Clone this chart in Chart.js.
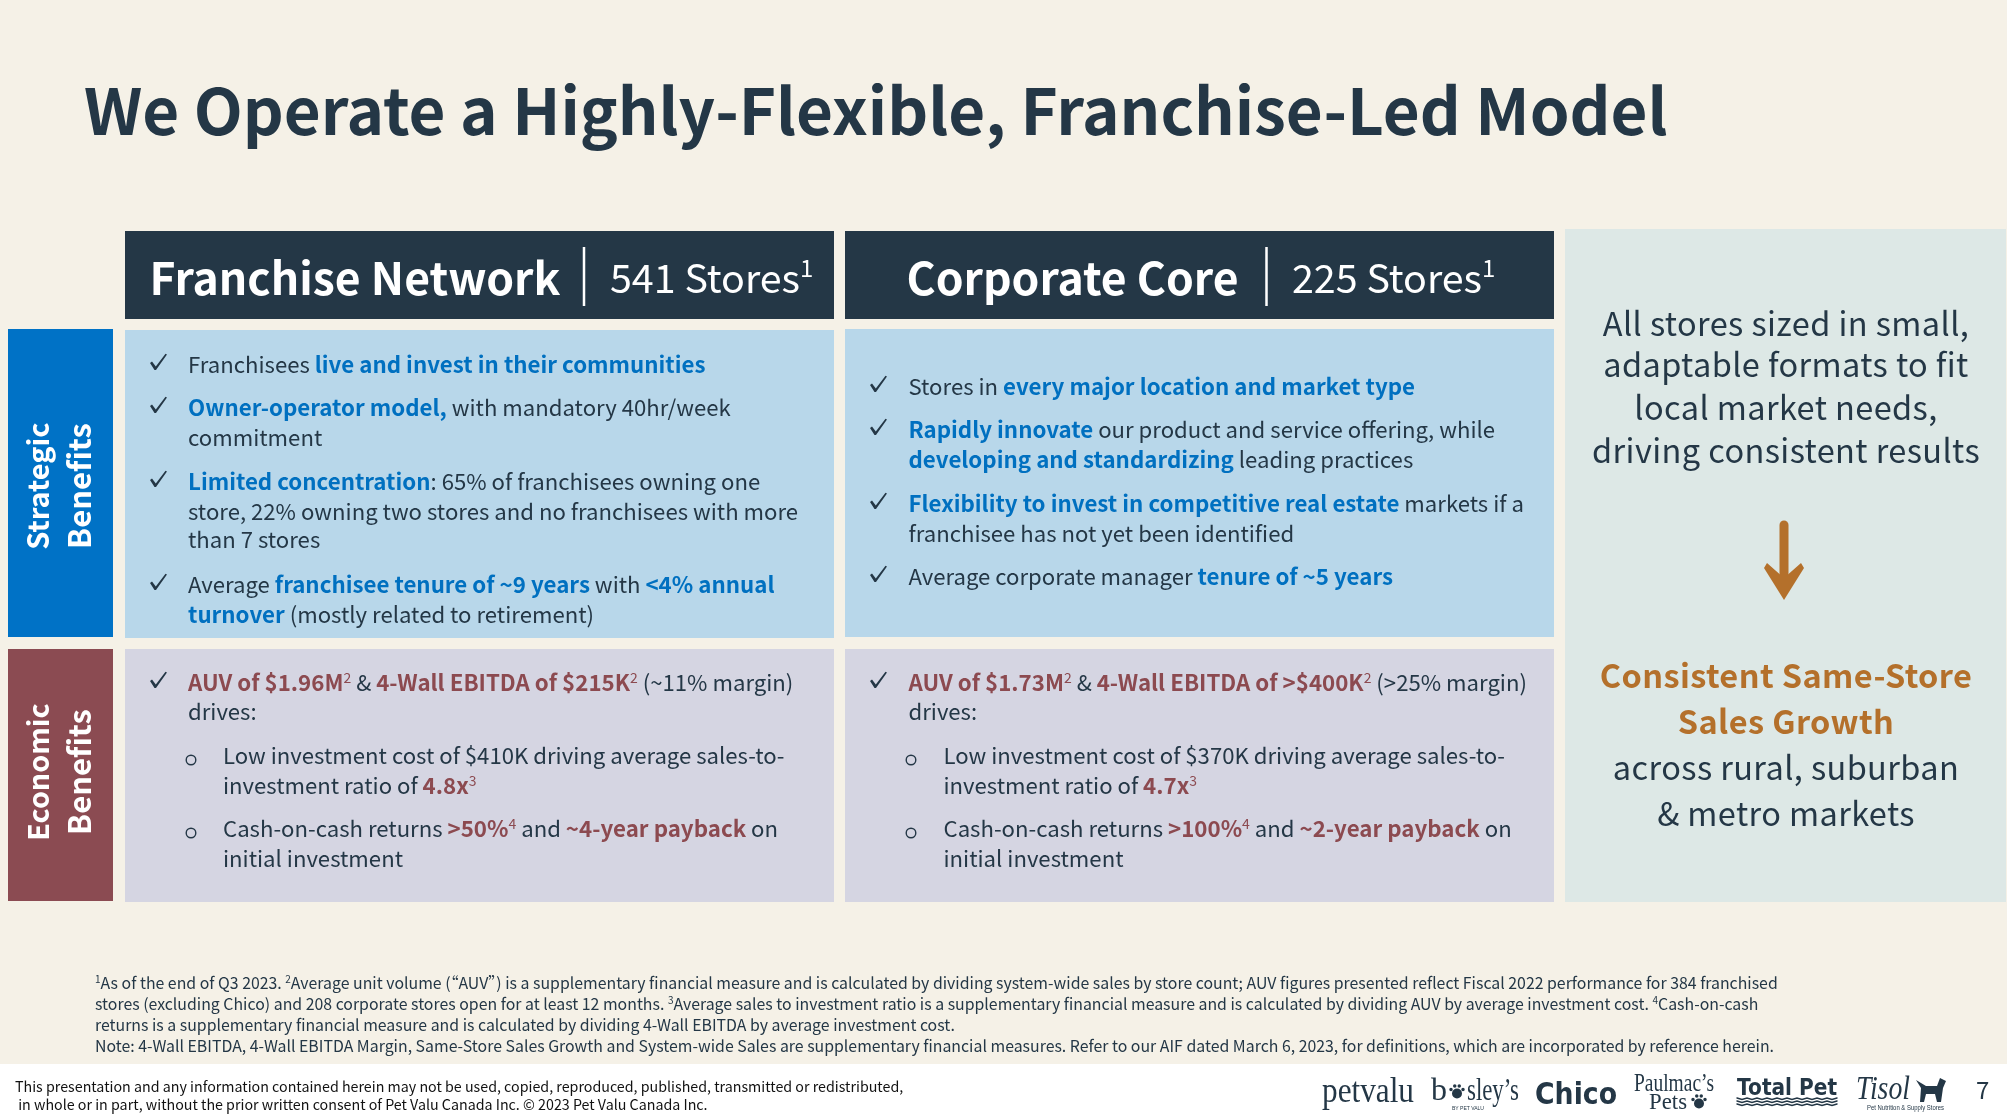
<!DOCTYPE html>
<html>
<head>
<meta charset="utf-8">
<title>Franchise-Led Model</title>
<script src="https://cdn.jsdelivr.net/npm/chart.js@4"></script>
<style>
    html, body { margin: 0; padding: 0; background: #f5f1e7; }
    canvas { display: block; }
</style>
</head>
<body>
<canvas id="slide" width="2007" height="1114"></canvas>
<script>
// Slide text and the two store counts. Runs are [text, style]:
// n = plain, b = blue bold, r = red bold, s = superscript
const titleText = 'We Operate a Highly-Flexible, Franchise-Led Model';
const networkNames = ['Franchise Network', 'Corporate Core'];
const storeCounts = [541, 225];
const sideLabels = [['Strategic', 'Benefits'], ['Economic', 'Benefits']];

const franchiseStrategic = [
    [['Franchisees ', 'n'], ['live and invest in their communities', 'b']],
    [['Owner-operator model', 'b'], [',', 'b'], [' with mandatory 40hr/week', 'n']],
    [['commitment', 'n']],
    [['Limited concentration', 'b'], [': 65% of franchisees owning one', 'n']],
    [['store, 22% owning two stores and no franchisees with more', 'n']],
    [['than 7 stores', 'n']],
    [['Average ', 'n'], ['franchisee tenure of ~9 years', 'b'], [' with ', 'n'], ['<4% annual', 'b']],
    [['turnover', 'b'], [' (mostly related to retirement)', 'n']],
];
const corporateStrategic = [
    [['Stores in ', 'n'], ['every major location and market type', 'b']],
    [['Rapidly innovate', 'b'], [' our product and service offering, while', 'n']],
    [['developing and standardizing', 'b'], [' leading practices', 'n']],
    [['Flexibility to invest in competitive real estate', 'b'], [' markets if a', 'n']],
    [['franchisee has not yet been identified', 'n']],
    [['Average corporate manager ', 'n'], ['tenure of ~5 years', 'b']],
];
const franchiseEconomic = [
    [['AUV of $1.96M', 'r'], ['2', 's'], [' & ', 'n'], ['4-Wall EBITDA of $215K', 'r'], ['2', 's'], [' (~11% margin)', 'n']],
    [['drives:', 'n']],
];
const franchiseEconomicSub = [
    [['Low investment cost of $410K driving average sales-to-', 'n']],
    [['investment ratio of ', 'n'], ['4.8x', 'r'], ['3', 's']],
    [['Cash-on-cash returns ', 'n'], ['>50%', 'r'], ['4', 's'], [' and ', 'n'], ['~4-year payback', 'r'], [' on', 'n']],
    [['initial investment', 'n']],
];
const corporateEconomic = [
    [['AUV of $1.73M', 'r'], ['2', 's'], [' & ', 'n'], ['4-Wall EBITDA of >$400K', 'r'], ['2', 's'], [' (>25% margin)', 'n']],
    [['drives:', 'n']],
];
const corporateEconomicSub = [
    [['Low investment cost of $370K driving average sales-to-', 'n']],
    [['investment ratio of ', 'n'], ['4.7x', 'r'], ['3', 's']],
    [['Cash-on-cash returns ', 'n'], ['>100%', 'r'], ['4', 's'], [' and ', 'n'], ['~2-year payback', 'r'], [' on', 'n']],
    [['initial investment', 'n']],
];
const sideTop = ['All stores sized in small,', 'adaptable formats to fit', 'local market needs,', 'driving consistent results'];
const sideHighlight = ['Consistent Same-Store', 'Sales Growth'];
const sideBottom = ['across rural, suburban', '& metro markets'];
const footnotes = [
    [['1', 's'], ['As of the end of Q3 2023. ', 'n'], ['2', 's'], ['Average unit volume (“AUV”) is a supplementary financial measure and is calculated by dividing system-wide sales by store count; AUV figures presented reflect Fiscal 2022 performance for 384 franchised', 'n']],
    [['stores (excluding Chico) and 208 corporate stores open for at least 12 months. ', 'n'], ['3', 's'], ['Average sales to investment ratio is a supplementary financial measure and is calculated by dividing AUV by average investment cost. ', 'n'], ['4', 's'], ['Cash-on-cash', 'n']],
    [['returns is a supplementary financial measure and is calculated by dividing 4-Wall EBITDA by average investment cost.', 'n']],
    [['Note: 4-Wall EBITDA, 4-Wall EBITDA Margin, Same-Store Sales Growth and System-wide Sales are supplementary financial measures. Refer to our AIF dated March 6, 2023, for definitions, which are incorporated by reference herein.', 'n']],
];
const legalLines = [
    'This presentation and any information contained herein may not be used, copied, reproduced, published, transmitted or redistributed,',
    ' in whole or in part, without the prior written consent of Pet Valu Canada Inc. © 2023 Pet Valu Canada Inc.',
];
const pageNumber = '7';

// Layout and colours
const SANS = '"Noto Sans CJK SC"';
const DARK = '#243746', BLUE = '#0070c0', RED = '#8c4a50', ORANGE = '#b4702b';
const RUN_COLOR = { n: DARK, b: BLUE, r: RED };
const RUN_WEIGHT = { n: 'normal', b: 'bold', r: 'bold' };
const BODY_SIZE = 22.3;

const PANELS = [
    { x0: 0,    x1: 2007, y0: 1064, y1: 1114, color: '#ffffff' },
    { x0: 125,  x1: 834,  y0: 231,  y1: 319,  color: '#243746' },
    { x0: 845,  x1: 1554, y0: 231,  y1: 319,  color: '#243746' },
    { x0: 8,    x1: 113,  y0: 329,  y1: 637,  color: '#0072c6' },
    { x0: 125,  x1: 834,  y0: 330,  y1: 638,  color: '#b8d7ea' },
    { x0: 845,  x1: 1554, y0: 329,  y1: 637,  color: '#b8d7ea' },
    { x0: 8,    x1: 113,  y0: 649,  y1: 901,  color: '#8b4b52' },
    { x0: 125,  x1: 834,  y0: 649,  y1: 902,  color: '#d5d5e2' },
    { x0: 845,  x1: 1554, y0: 649,  y1: 902,  color: '#d5d5e2' },
    { x0: 1565, x1: 2006, y0: 229,  y1: 902,  color: '#dde8e6' },
];

function drawRuns(ctx, runs, x, y, size) {
    ctx.textAlign = 'left';
    ctx.letterSpacing = '0px';
    ctx.fillStyle = DARK;
    let cx = x;
    runs.forEach(([text, style]) => {
        if (style === 's') {
            ctx.font = `normal ${Math.round(size * 0.62)}px ${SANS}`;
            ctx.fillText(text, cx, y - size * 0.36);
        } else {
            // plain runs sit a touch tighter than the bold ones in the reference
            const runSize = style === 'n' && size === BODY_SIZE ? size - 0.15 : size;
            ctx.font = `${RUN_WEIGHT[style]} ${runSize}px ${SANS}`;
            ctx.fillStyle = RUN_COLOR[style];
            ctx.fillText(text, cx, y);
        }
        cx += ctx.measureText(text).width;
    });
}

function drawChecks(ctx, lines, x, baselines, marks, markX) {
    lines.forEach((runs, i) => {
        drawRuns(ctx, runs, x, baselines[i], BODY_SIZE);
        if (!marks[i]) return;
        ctx.fillStyle = DARK;
        ctx.beginPath();
        [[0, -10], [2, -11.5], [5.8, -6.5], [15.5, -19.2], [17, -18.5], [6, -3], [4.5, -3]]
            .forEach(([px, py]) => ctx.lineTo(markX + px, baselines[i] + py));
        ctx.closePath();
        ctx.fill();
    });
}

function drawRings(ctx, lines, x, baselines, marks, markX) {
    lines.forEach((runs, i) => {
        drawRuns(ctx, runs, x, baselines[i], BODY_SIZE);
        if (!marks[i]) return;
        ctx.strokeStyle = DARK;
        ctx.lineWidth = 1.4;
        ctx.beginPath();
        ctx.arc(markX, baselines[i] - 4, 4.8, 0, Math.PI * 2);
        ctx.stroke();
    });
}

function drawPaw(ctx, x, y, r) {
    ctx.beginPath();
    ctx.arc(x, y + r * 0.5, r, 0, Math.PI * 2);
    [[-1.2, -0.3], [-0.45, -1], [0.45, -1], [1.2, -0.3]].forEach(([dx, dy]) => {
        ctx.moveTo(x + dx * r + r * 0.35, y + dy * r);
        ctx.arc(x + dx * r, y + dy * r, r * 0.35, 0, Math.PI * 2);
    });
    ctx.fill();
}

function drawLogos(ctx) {
    ctx.fillStyle = DARK;
    ctx.letterSpacing = '0px';
    ctx.textAlign = 'left';
    ctx.font = '36px "Liberation Serif"';
    ctx.fillText('petvalu', 1322, 1102, 92);
    ctx.font = '32px "Liberation Serif"';
    ctx.fillText('b', 1431, 1100);
    drawPaw(ctx, 1457, 1091, 5);
    ctx.fillText('sley\u2019s', 1467, 1100, 52);
    ctx.font = '6px "Liberation Sans"';
    ctx.fillText('BY PET VALU', 1452, 1110, 32);
    ctx.font = 'bold 30px "DejaVu Sans"';
    ctx.fillText('Chico', 1535, 1104, 82);
    ctx.font = '25px "Liberation Serif"';
    ctx.fillText('Paulmac\u2019s', 1634, 1091, 80);
    ctx.font = '24px "Liberation Serif"';
    ctx.fillText('Pets', 1649, 1109, 38);
    drawPaw(ctx, 1699, 1101, 5);
    ctx.font = 'bold 23px "DejaVu Sans"';
    ctx.fillText('Total Pet', 1737, 1095, 100);
    ctx.strokeStyle = DARK;
    ctx.lineWidth = 1.5;
    [1098, 1101, 1104].forEach(wy => {
        ctx.beginPath();
        for (let wx = 1737; wx <= 1837; wx += 5) {
            ctx.lineTo(wx, wy + ((wx - 1737) % 10 === 0 ? 0 : 1.5));
        }
        ctx.stroke();
    });
    ctx.font = 'italic 33px "Liberation Serif"';
    ctx.fillText('Tisol', 1856, 1099, 54);
    ctx.font = '7px "Liberation Sans"';
    ctx.fillText('Pet Nutrition & Supply Stores', 1867, 1110, 77);
    ctx.beginPath();
    [[1916, 1080], [1926, 1086], [1937, 1086], [1940, 1078], [1946, 1081], [1943, 1088],
     [1941, 1102], [1937, 1102], [1935, 1094], [1926, 1094], [1924, 1102], [1920, 1102], [1921, 1088]]
        .forEach(([px, py]) => ctx.lineTo(px, py));
    ctx.closePath();
    ctx.fill();
}

const slidePlugin = {
    id: 'slide',
    beforeDraw(chart) {
        const { ctx, scales: { x, y } } = chart;
        ctx.save();
        ctx.textBaseline = 'alphabetic';
        ctx.fontKerning = 'normal';

        ctx.fillStyle = '#f5f1e7';
        ctx.fillRect(0, 0, chart.width, chart.height);
        PANELS.forEach(p => {
            const left = x.getPixelForValue(p.x0), top = y.getPixelForValue(p.y0);
            ctx.fillStyle = p.color;
            ctx.fillRect(left, top, x.getPixelForValue(p.x1) - left, y.getPixelForValue(p.y1) - top);
        });

        // Title
        ctx.fillStyle = DARK;
        ctx.font = `bold 63.7px ${SANS}`;
        ctx.fillText(titleText, 84, 135);

        // Column headers
        [[149.5, 584, 610], [906.5, 1266.5, 1292]].forEach(([nameX, ruleX, countX], i) => {
            ctx.fillStyle = '#ffffff';
            ctx.font = `bold 44.5px ${SANS}`;
            ctx.letterSpacing = '0px';
            ctx.fillText(networkNames[i], nameX, 295);
            ctx.fillRect(ruleX - 1.25, 247, 2.5, 59);
            ctx.font = `normal 39.4px ${SANS}`;
            const label = storeCounts[i] + ' Stores';
            ctx.fillText(label, countX, 293);
            const w = ctx.measureText(label).width;
            ctx.font = `normal 24px ${SANS}`;
            ctx.fillText('1', countX + w, 277);
        });

        // Rotated row labels
        [[486, 49, 29, sideLabels[0][0]], [486, 91, 31, sideLabels[0][1]],
         [772, 49, 28.7, sideLabels[1][0]], [772, 91, 31, sideLabels[1][1]]].forEach(([cy, bx, size, line]) => {
            ctx.save();
            ctx.translate(bx, cy);
            ctx.rotate(-Math.PI / 2);
            ctx.fillStyle = '#ffffff';
            ctx.font = `bold ${size}px ${SANS}`;
            ctx.textAlign = 'center';
            ctx.fillText(line, 0, 0);
            ctx.restore();
        });

        // Bullet blocks
        drawChecks(ctx, franchiseStrategic, 188, [373, 416, 446, 490, 520, 548, 593, 623], [1, 1, 0, 1, 0, 0, 1, 0], 150);
        drawChecks(ctx, corporateStrategic, 908.5, [395, 438, 468, 512, 542, 585], [1, 1, 0, 1, 0, 1], 870);
        drawChecks(ctx, franchiseEconomic, 188, [691, 720], [1, 0], 150);
        drawChecks(ctx, corporateEconomic, 908.5, [691, 720], [1, 0], 870);
        drawRings(ctx, franchiseEconomicSub, 223, [764, 794, 837, 867], [1, 0, 1, 0], 191);
        drawRings(ctx, corporateEconomicSub, 943.5, [764, 794, 837, 867], [1, 0, 1, 0], 911);

        // Right-hand column
        const sideX = 1786;
        ctx.textAlign = 'center';
        ctx.letterSpacing = '0.4px';
        ctx.fillStyle = DARK;
        ctx.font = `normal 32.5px ${SANS}`;
        sideTop.forEach((line, i) => ctx.fillText(line, sideX, [335.5, 377, 419.5, 463][i]));
        ctx.fillStyle = ORANGE;
        ctx.font = `bold 32.5px ${SANS}`;
        sideHighlight.forEach((line, i) => ctx.fillText(line, sideX, [688, 734][i]));
        ctx.fillStyle = DARK;
        ctx.font = `normal 32.5px ${SANS}`;
        sideBottom.forEach((line, i) => ctx.fillText(line, sideX, [780, 825.5][i]));

        // Arrow
        ctx.strokeStyle = ORANGE;
        ctx.lineWidth = 9;
        ctx.lineCap = 'round';
        ctx.beginPath();
        ctx.moveTo(1784, 525);
        ctx.lineTo(1784, 585);
        ctx.stroke();
        ctx.fillStyle = ORANGE;
        ctx.beginPath();
        [[1784, 600], [1764, 568], [1767, 563], [1784, 578], [1801, 563], [1804, 568]]
            .forEach(([px, py]) => ctx.lineTo(px, py));
        ctx.closePath();
        ctx.fill();

        // Footnotes and footer
        ctx.textAlign = 'left';
        footnotes.forEach((runs, i) => {
            drawRuns(ctx, runs, 95, [989, 1010, 1031, 1052][i], 15.87);
        });
        ctx.letterSpacing = '0px';
        ctx.fillStyle = '#111111';
        ctx.font = `normal 14.25px ${SANS}`;
        legalLines.forEach((line, i) => ctx.fillText(line, 15, [1091.5, 1110][i]));
        drawLogos(ctx);
        ctx.fillStyle = DARK;
        ctx.font = `normal 24px ${SANS}`;
        ctx.fillText(pageNumber, 1976, 1099);
        ctx.restore();
    },
};

new Chart(document.getElementById('slide'), {
    type: 'scatter',
    data: { datasets: [] },
    options: {
        responsive: false,
        animation: false,
        devicePixelRatio: 1,
        layout: { padding: 0 },
        plugins: { legend: { display: false }, tooltip: { enabled: false } },
        scales: {
            x: { type: 'linear', min: 0, max: 2007, display: false },
            y: { type: 'linear', min: 0, max: 1114, reverse: true, display: false },
        },
    },
    plugins: [slidePlugin],
});
</script>
</body>
</html>
